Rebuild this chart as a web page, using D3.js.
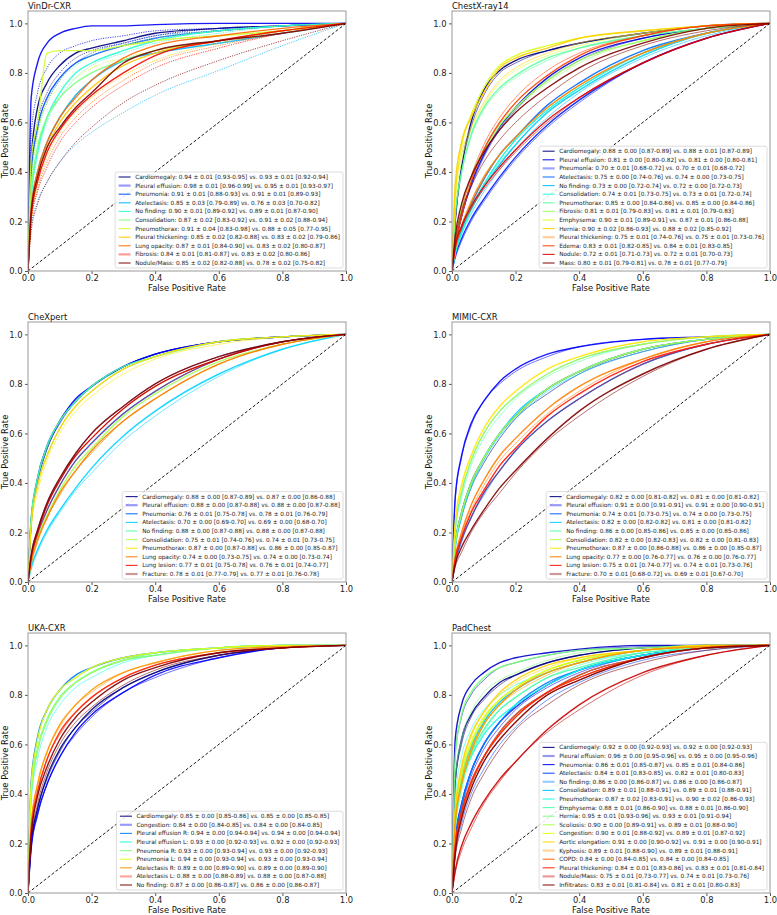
<!DOCTYPE html>
<html>
<head>
<meta charset="utf-8">
<script src="https://cdn.jsdelivr.net/npm/d3@7"></script>
<style>
  body { margin: 0; background: #fff; }
  text { font-family: "DejaVu Sans", sans-serif; }
</style>
</head>
<body>
<svg id="chart" width="777" height="915"></svg>
<script>
// shared false positive rate grid, tick values
var FPR = [0, 0.01, 0.03, 0.06, 0.1, 0.15, 0.2, 0.3, 0.4, 0.6, 0.8, 1];
var xTicks = [0, 0.2, 0.4, 0.6, 0.8, 1.0];
var yTicks = [0, 0.2, 0.4, 0.6, 0.8, 1.0];

// ---- VinDr-CXR
var vinLegend = [
	"Cardiomegaly: 0.94 ± 0.01 [0.93-0.95] vs. 0.93 ± 0.01 [0.92-0.94]",
	"Pleural effusion: 0.98 ± 0.01 [0.96-0.99] vs. 0.95 ± 0.01 [0.93-0.97]",
	"Pneumonia: 0.91 ± 0.01 [0.88-0.93] vs. 0.91 ± 0.01 [0.89-0.93]",
	"Atelectasis: 0.85 ± 0.03 [0.79-0.89] vs. 0.76 ± 0.03 [0.70-0.82]",
	"No finding: 0.90 ± 0.01 [0.89-0.92] vs. 0.89 ± 0.01 [0.87-0.90]",
	"Consolidation: 0.87 ± 0.02 [0.83-0.92] vs. 0.91 ± 0.02 [0.88-0.94]",
	"Pneumothorax: 0.91 ± 0.04 [0.83-0.98] vs. 0.88 ± 0.05 [0.77-0.95]",
	"Pleural thickening: 0.85 ± 0.02 [0.82-0.88] vs. 0.83 ± 0.02 [0.79-0.86]",
	"Lung opacity: 0.87 ± 0.01 [0.84-0.90] vs. 0.83 ± 0.02 [0.80-0.87]",
	"Fibrosis: 0.84 ± 0.01 [0.81-0.87] vs. 0.83 ± 0.02 [0.80-0.86]",
	"Nodule/Mass: 0.85 ± 0.02 [0.82-0.88] vs. 0.78 ± 0.02 [0.75-0.82]"
];
var vinA = [
	[0,.45,.66,.76,.83,.88,.90,.93,.96,.98,.99,1],
	[0,.70,.84,.92,.96,.98,.99,.99,.995,1,1,1],
	[0,.40,.58,.70,.78,.84,.87,.91,.94,.97,.99,1],
	[0,.25,.40,.52,.62,.71,.77,.85,.88,.92,.96,1],
	[0,.30,.48,.62,.72,.80,.84,.89,.93,.97,.99,1],
	[0,.32,.50,.62,.70,.76,.80,.85,.89,.93,.97,1],
	[0,.45,.60,.88,.89,.89,.89,.91,.93,.95,.97,1],
	[0,.22,.38,.50,.60,.68,.74,.83,.88,.93,.97,1],
	[0,.25,.40,.52,.62,.70,.77,.86,.91,.95,.98,1],
	[0,.22,.36,.48,.57,.65,.71,.80,.87,.93,.97,1],
	[0,.24,.38,.50,.58,.66,.72,.84,.89,.93,.96,1]
];
var vinB = [
	[0,.40,.60,.72,.80,.86,.89,.92,.95,.98,.99,1],
	[0,.55,.72,.82,.88,.91,.93,.95,.97,.98,.99,1],
	[0,.38,.56,.68,.77,.84,.88,.92,.95,.97,.99,1],
	[0,.18,.28,.36,.44,.51,.56,.64,.71,.81,.91,1],
	[0,.28,.46,.60,.70,.78,.83,.88,.92,.96,.99,1],
	[0,.35,.55,.68,.77,.83,.87,.91,.94,.97,.99,1],
	[0,.35,.55,.68,.74,.78,.82,.86,.89,.93,.97,1],
	[0,.20,.34,.46,.56,.64,.70,.79,.85,.92,.96,1],
	[0,.20,.33,.44,.54,.62,.68,.77,.84,.91,.96,1],
	[0,.20,.32,.42,.52,.60,.66,.75,.82,.90,.96,1],
	[0,.16,.27,.36,.44,.52,.58,.68,.75,.85,.93,1]
];
var vinLight = [1, 9];

// ---- ChestX-ray14
var nihLegend = [
	"Cardiomegaly: 0.88 ± 0.00 [0.87-0.89] vs. 0.88 ± 0.01 [0.87-0.89]",
	"Pleural effusion: 0.81 ± 0.00 [0.80-0.82] vs. 0.81 ± 0.00 [0.80-0.81]",
	"Pneumonia: 0.70 ± 0.01 [0.68-0.72] vs. 0.70 ± 0.01 [0.68-0.72]",
	"Atelectasis: 0.75 ± 0.00 [0.74-0.76] vs. 0.74 ± 0.00 [0.73-0.75]",
	"No finding: 0.73 ± 0.00 [0.72-0.74] vs. 0.72 ± 0.00 [0.72-0.73]",
	"Consolidation: 0.74 ± 0.01 [0.73-0.75] vs. 0.73 ± 0.01 [0.72-0.74]",
	"Pneumothorax: 0.85 ± 0.00 [0.84-0.86] vs. 0.85 ± 0.00 [0.84-0.86]",
	"Fibrosis: 0.81 ± 0.01 [0.79-0.83] vs. 0.81 ± 0.01 [0.79-0.83]",
	"Emphysema: 0.90 ± 0.01 [0.89-0.91] vs. 0.87 ± 0.01 [0.86-0.88]",
	"Hernia: 0.90 ± 0.02 [0.86-0.93] vs. 0.88 ± 0.02 [0.85-0.92]",
	"Pleural thickening: 0.75 ± 0.01 [0.74-0.76] vs. 0.75 ± 0.01 [0.73-0.76]",
	"Edema: 0.83 ± 0.01 [0.82-0.85] vs. 0.84 ± 0.01 [0.83-0.85]",
	"Nodule: 0.72 ± 0.01 [0.71-0.73] vs. 0.72 ± 0.01 [0.70-0.73]",
	"Mass: 0.80 ± 0.01 [0.79-0.81] vs. 0.78 ± 0.01 [0.77-0.79]"
];
var nihA = [
	[0,.20,.42,.60,.73,.81,.85,.89,.92,.96,.99,1],
	[0,.10,.22,.35,.47,.58,.66,.78,.86,.94,.98,1],
	[0,.06,.13,.21,.29,.38,.46,.59,.69,.84,.94,1],
	[0,.08,.18,.27,.37,.47,.54,.67,.76,.89,.96,1],
	[0,.07,.16,.25,.34,.43,.51,.64,.73,.87,.96,1],
	[0,.07,.15,.25,.35,.45,.53,.65,.74,.88,.96,1],
	[0,.22,.40,.55,.66,.74,.79,.86,.90,.95,.98,1],
	[0,.12,.26,.38,.49,.59,.66,.77,.85,.93,.98,1],
	[0,.30,.50,.63,.74,.83,.87,.91,.94,.97,.99,1],
	[0,.35,.52,.62,.72,.82,.86,.90,.94,.97,.99,1],
	[0,.09,.18,.28,.38,.47,.54,.66,.75,.88,.96,1],
	[0,.10,.22,.36,.49,.60,.68,.79,.87,.95,.99,1],
	[0,.10,.18,.26,.34,.42,.49,.61,.70,.84,.94,1],
	[0,.14,.27,.38,.48,.57,.64,.74,.82,.92,.98,1]
];
var nihB = [
	[0,.20,.41,.58,.71,.80,.84,.89,.92,.96,.99,1],
	[0,.10,.22,.34,.46,.57,.65,.77,.85,.94,.98,1],
	[0,.05,.12,.20,.28,.37,.45,.58,.68,.84,.94,1],
	[0,.08,.17,.26,.35,.45,.53,.65,.74,.88,.96,1],
	[0,.07,.15,.23,.32,.41,.49,.62,.72,.86,.95,1],
	[0,.07,.15,.24,.34,.44,.51,.64,.73,.87,.96,1],
	[0,.21,.39,.54,.65,.73,.78,.85,.90,.95,.98,1],
	[0,.12,.25,.37,.48,.58,.65,.76,.84,.93,.98,1],
	[0,.26,.44,.57,.67,.76,.81,.87,.91,.96,.99,1],
	[0,.30,.47,.58,.68,.77,.82,.88,.92,.96,.99,1],
	[0,.08,.18,.27,.37,.47,.54,.66,.75,.88,.96,1],
	[0,.11,.24,.38,.51,.62,.70,.81,.88,.95,.99,1],
	[0,.09,.17,.25,.33,.41,.48,.60,.70,.84,.94,1],
	[0,.12,.24,.34,.44,.53,.60,.71,.80,.91,.97,1]
];
var nihLight = [2, 10];

// ---- CheXpert
var cxpLegend = [
	"Cardiomegaly: 0.88 ± 0.00 [0.87-0.89] vs. 0.87 ± 0.00 [0.86-0.88]",
	"Pleural effusion: 0.88 ± 0.00 [0.87-0.88] vs. 0.88 ± 0.00 [0.87-0.88]",
	"Pneumonia: 0.76 ± 0.01 [0.75-0.78] vs. 0.78 ± 0.01 [0.76-0.79]",
	"Atelectasis: 0.70 ± 0.00 [0.69-0.70] vs. 0.69 ± 0.00 [0.68-0.70]",
	"No finding: 0.88 ± 0.00 [0.87-0.88] vs. 0.88 ± 0.00 [0.87-0.88]",
	"Consolidation: 0.75 ± 0.01 [0.74-0.76] vs. 0.74 ± 0.01 [0.73-0.75]",
	"Pneumothorax: 0.87 ± 0.00 [0.87-0.88] vs. 0.86 ± 0.00 [0.85-0.87]",
	"Lung opacity: 0.74 ± 0.00 [0.73-0.75] vs. 0.74 ± 0.00 [0.73-0.74]",
	"Lung lesion: 0.77 ± 0.01 [0.75-0.78] vs. 0.76 ± 0.01 [0.74-0.77]",
	"Fracture: 0.78 ± 0.01 [0.77-0.79] vs. 0.77 ± 0.01 [0.76-0.78]"
];
var cxpA = [
	[0,.25,.41,.54,.65,.73,.79,.87,.92,.97,.99,1],
	[0,.24,.42,.55,.65,.74,.79,.87,.92,.97,.99,1],
	[0,.09,.19,.29,.39,.49,.56,.68,.77,.90,.97,1],
	[0,.06,.13,.21,.29,.38,.46,.59,.69,.84,.94,1],
	[0,.26,.42,.55,.65,.73,.79,.87,.91,.97,.99,1],
	[0,.08,.18,.27,.37,.47,.54,.67,.76,.89,.96,1],
	[0,.23,.39,.51,.62,.71,.77,.86,.91,.97,.99,1],
	[0,.08,.17,.26,.36,.45,.53,.65,.74,.88,.96,1],
	[0,.10,.20,.31,.41,.51,.58,.70,.79,.90,.97,1],
	[0,.11,.21,.32,.42,.52,.60,.71,.80,.91,.97,1]
];
var cxpB = [
	[0,.23,.39,.51,.62,.71,.77,.86,.91,.97,.99,1],
	[0,.24,.41,.54,.64,.73,.79,.87,.92,.97,.99,1],
	[0,.11,.21,.32,.42,.52,.60,.71,.80,.91,.97,1],
	[0,.05,.12,.20,.28,.37,.44,.57,.67,.83,.94,1],
	[0,.25,.41,.54,.65,.73,.79,.86,.91,.97,.99,1],
	[0,.08,.17,.26,.36,.45,.53,.65,.74,.88,.96,1],
	[0,.21,.36,.49,.60,.69,.75,.84,.90,.96,.99,1],
	[0,.07,.16,.26,.35,.45,.52,.65,.74,.88,.96,1],
	[0,.09,.19,.29,.39,.49,.56,.68,.77,.90,.97,1],
	[0,.10,.20,.31,.41,.51,.58,.70,.79,.90,.97,1]
];
var cxpLight = [1, 9];

// ---- MIMIC-CXR
var mimLegend = [
	"Cardiomegaly: 0.82 ± 0.00 [0.81-0.82] vs. 0.81 ± 0.00 [0.81-0.82]",
	"Pleural effusion: 0.91 ± 0.00 [0.91-0.91] vs. 0.91 ± 0.00 [0.90-0.91]",
	"Pneumonia: 0.74 ± 0.01 [0.73-0.75] vs. 0.74 ± 0.00 [0.73-0.75]",
	"Atelectasis: 0.82 ± 0.00 [0.82-0.82] vs. 0.81 ± 0.00 [0.81-0.82]",
	"No finding: 0.86 ± 0.00 [0.85-0.86] vs. 0.85 ± 0.00 [0.85-0.86]",
	"Consolidation: 0.82 ± 0.00 [0.82-0.83] vs. 0.82 ± 0.00 [0.81-0.83]",
	"Pneumothorax: 0.87 ± 0.00 [0.86-0.88] vs. 0.86 ± 0.00 [0.85-0.87]",
	"Lung opacity: 0.77 ± 0.00 [0.76-0.77] vs. 0.76 ± 0.00 [0.76-0.77]",
	"Lung lesion: 0.75 ± 0.01 [0.74-0.77] vs. 0.74 ± 0.01 [0.73-0.76]",
	"Fracture: 0.70 ± 0.01 [0.68-0.72] vs. 0.69 ± 0.01 [0.67-0.70]"
];
var mimA = [
	[0,.15,.28,.40,.50,.60,.67,.78,.85,.94,.98,1],
	[0,.34,.51,.64,.73,.81,.86,.92,.95,.98,.99,1],
	[0,.08,.17,.26,.36,.45,.53,.65,.74,.88,.96,1],
	[0,.14,.27,.39,.50,.60,.68,.78,.85,.94,.98,1],
	[0,.21,.36,.49,.60,.69,.75,.84,.90,.96,.99,1],
	[0,.15,.28,.40,.50,.60,.67,.78,.85,.94,.98,1],
	[0,.24,.39,.51,.62,.71,.77,.86,.91,.97,.99,1],
	[0,.10,.20,.31,.41,.51,.58,.70,.79,.90,.97,1],
	[0,.09,.18,.28,.37,.47,.54,.67,.76,.89,.96,1],
	[0,.07,.14,.21,.29,.38,.45,.58,.69,.84,.94,1]
];
var mimB = [
	[0,.14,.26,.38,.48,.58,.66,.76,.84,.93,.98,1],
	[0,.33,.50,.63,.73,.80,.85,.91,.95,.98,.99,1],
	[0,.07,.16,.26,.35,.45,.53,.65,.74,.88,.96,1],
	[0,.13,.26,.38,.49,.59,.66,.77,.84,.93,.98,1],
	[0,.20,.34,.47,.58,.67,.74,.83,.89,.96,.99,1],
	[0,.14,.27,.39,.50,.60,.67,.78,.85,.94,.98,1],
	[0,.22,.37,.49,.60,.69,.75,.84,.90,.96,.99,1],
	[0,.09,.19,.29,.39,.49,.56,.68,.77,.90,.97,1],
	[0,.08,.17,.26,.36,.45,.53,.65,.74,.88,.96,1],
	[0,.06,.12,.20,.28,.36,.44,.57,.67,.83,.94,1]
];
var mimLight = [1, 9];

// ---- UKA-CXR
var ukaLegend = [
	"Cardiomegaly: 0.85 ± 0.00 [0.85-0.86] vs. 0.85 ± 0.00 [0.85-0.85]",
	"Congestion: 0.84 ± 0.00 [0.84-0.85] vs. 0.84 ± 0.00 [0.84-0.85]",
	"Pleural effusion R: 0.94 ± 0.00 [0.94-0.94] vs. 0.94 ± 0.00 [0.94-0.94]",
	"Pleural effusion L: 0.93 ± 0.00 [0.92-0.93] vs. 0.92 ± 0.00 [0.92-0.93]",
	"Pneumonia R: 0.93 ± 0.00 [0.93-0.94] vs. 0.93 ± 0.00 [0.92-0.93]",
	"Pneumonia L: 0.94 ± 0.00 [0.93-0.94] vs. 0.93 ± 0.00 [0.93-0.94]",
	"Atelectasis R: 0.89 ± 0.00 [0.89-0.90] vs. 0.89 ± 0.00 [0.89-0.90]",
	"Atelectasis L: 0.88 ± 0.00 [0.88-0.89] vs. 0.88 ± 0.00 [0.87-0.88]",
	"No finding: 0.87 ± 0.00 [0.86-0.87] vs. 0.86 ± 0.00 [0.86-0.87]"
];
var ukaA = [
	[0,.20,.34,.47,.58,.67,.74,.83,.89,.96,.99,1],
	[0,.18,.32,.44,.55,.65,.72,.81,.88,.95,.99,1],
	[0,.45,.63,.74,.82,.88,.91,.95,.97,.99,1,1],
	[0,.41,.58,.70,.79,.85,.89,.94,.97,.99,1,1],
	[0,.40,.58,.70,.79,.85,.89,.94,.96,.99,1,1],
	[0,.44,.62,.74,.82,.87,.91,.95,.97,.99,1,1],
	[0,.28,.44,.57,.68,.76,.82,.89,.93,.98,.995,1],
	[0,.25,.41,.54,.65,.73,.79,.87,.92,.97,.99,1],
	[0,.23,.39,.51,.62,.71,.77,.86,.91,.97,.99,1]
];
var ukaB = [
	[0,.19,.34,.46,.57,.67,.73,.83,.89,.96,.99,1],
	[0,.18,.31,.44,.55,.64,.71,.81,.87,.95,.99,1],
	[0,.44,.62,.74,.82,.87,.91,.95,.97,.99,1,1],
	[0,.37,.54,.67,.76,.83,.87,.93,.96,.99,1,1],
	[0,.40,.57,.69,.78,.85,.89,.94,.96,.99,1,1],
	[0,.41,.58,.70,.79,.85,.89,.94,.97,.99,1,1],
	[0,.27,.44,.57,.67,.76,.81,.89,.93,.98,.995,1],
	[0,.25,.40,.54,.64,.73,.79,.87,.92,.97,.99,1],
	[0,.21,.36,.49,.60,.69,.75,.84,.90,.96,.99,1]
];
var ukaLight = [1, 7];

// ---- PadChest
var padLegend = [
	"Cardiomegaly: 0.92 ± 0.00 [0.92-0.93] vs. 0.92 ± 0.00 [0.92-0.93]",
	"Pleural effusion: 0.96 ± 0.00 [0.95-0.96] vs. 0.95 ± 0.00 [0.95-0.96]",
	"Pneumonia: 0.86 ± 0.01 [0.85-0.87] vs. 0.85 ± 0.01 [0.84-0.86]",
	"Atelectasis: 0.84 ± 0.01 [0.83-0.85] vs. 0.82 ± 0.01 [0.80-0.83]",
	"No finding: 0.86 ± 0.00 [0.86-0.87] vs. 0.86 ± 0.00 [0.86-0.87]",
	"Consolidation: 0.89 ± 0.01 [0.88-0.91] vs. 0.89 ± 0.01 [0.88-0.91]",
	"Pneumothorax: 0.87 ± 0.02 [0.83-0.91] vs. 0.90 ± 0.02 [0.86-0.93]",
	"Emphysema: 0.88 ± 0.01 [0.86-0.90] vs. 0.88 ± 0.01 [0.86-0.90]",
	"Hernia: 0.95 ± 0.01 [0.93-0.96] vs. 0.93 ± 0.01 [0.91-0.94]",
	"Scoliosis: 0.90 ± 0.00 [0.89-0.91] vs. 0.89 ± 0.01 [0.88-0.90]",
	"Congestion: 0.90 ± 0.01 [0.88-0.92] vs. 0.89 ± 0.01 [0.87-0.92]",
	"Aortic elongation: 0.91 ± 0.00 [0.90-0.92] vs. 0.91 ± 0.00 [0.90-0.91]",
	"Kyphosis: 0.89 ± 0.01 [0.88-0.90] vs. 0.89 ± 0.01 [0.88-0.91]",
	"COPD: 0.84 ± 0.00 [0.84-0.85] vs. 0.84 ± 0.00 [0.84-0.85]",
	"Pleural thickening: 0.84 ± 0.01 [0.83-0.86] vs. 0.83 ± 0.01 [0.81-0.84]",
	"Nodule/Mass: 0.75 ± 0.01 [0.73-0.77] vs. 0.74 ± 0.01 [0.73-0.76]",
	"Infiltrates: 0.83 ± 0.01 [0.81-0.84] vs. 0.81 ± 0.01 [0.80-0.83]"
];
var padA = [
	[0,.45,.62,.72,.79,.85,.88,.93,.96,.99,1,1],
	[0,.62,.76,.84,.89,.93,.95,.97,.985,1,1,1],
	[0,.21,.36,.49,.60,.69,.75,.84,.90,.96,.99,1],
	[0,.18,.32,.44,.55,.65,.72,.81,.88,.95,.99,1],
	[0,.20,.35,.49,.60,.69,.76,.85,.90,.96,.99,1],
	[0,.30,.47,.59,.69,.77,.82,.89,.93,.98,.995,1],
	[0,.30,.45,.55,.64,.71,.76,.84,.90,.96,.99,1],
	[0,.26,.43,.56,.66,.74,.79,.87,.91,.97,.99,1],
	[0,.55,.72,.81,.87,.91,.93,.96,.98,.99,1,1],
	[0,.30,.47,.60,.70,.78,.83,.90,.94,.98,1,1],
	[0,.32,.49,.61,.71,.78,.83,.90,.94,.98,.995,1],
	[0,.33,.51,.64,.73,.81,.86,.92,.95,.98,1,1],
	[0,.28,.44,.57,.68,.76,.82,.89,.93,.98,.995,1],
	[0,.18,.32,.44,.55,.65,.72,.81,.88,.95,.99,1],
	[0,.19,.33,.45,.55,.64,.71,.81,.87,.95,.99,1],
	[0,.09,.19,.28,.37,.46,.53,.66,.76,.89,.96,1],
	[0,.16,.30,.42,.53,.62,.69,.80,.86,.95,.99,1]
];
var padB = [
	[0,.44,.60,.71,.78,.84,.88,.93,.96,.99,1,1],
	[0,.56,.71,.80,.86,.91,.93,.96,.98,.995,1,1],
	[0,.19,.34,.47,.58,.67,.74,.83,.89,.96,.99,1],
	[0,.15,.28,.40,.50,.60,.67,.78,.85,.94,.98,1],
	[0,.21,.36,.49,.60,.69,.75,.84,.90,.96,.99,1],
	[0,.29,.46,.58,.68,.76,.82,.89,.93,.98,.995,1],
	[0,.38,.55,.66,.74,.80,.84,.89,.93,.97,.99,1],
	[0,.25,.41,.55,.65,.74,.79,.87,.92,.97,.99,1],
	[0,.45,.62,.73,.81,.86,.89,.94,.97,.99,1,1],
	[0,.28,.44,.57,.68,.76,.82,.89,.93,.98,.995,1],
	[0,.29,.45,.58,.68,.76,.82,.89,.93,.98,.995,1],
	[0,.33,.50,.63,.73,.80,.85,.91,.95,.98,1,1],
	[0,.29,.45,.58,.68,.76,.81,.88,.93,.98,.995,1],
	[0,.18,.31,.44,.55,.64,.71,.81,.87,.95,.99,1],
	[0,.17,.30,.42,.53,.62,.69,.80,.86,.95,.99,1],
	[0,.08,.17,.26,.36,.45,.53,.65,.74,.88,.96,1],
	[0,.14,.26,.38,.48,.58,.66,.76,.84,.93,.98,1]
];
var padLight = [1, 4, 12, 15];

var panels = [
	{ title: "VinDr-CXR", legend: vinLegend, a: vinA, b: vinB, light: vinLight, col: 0, row: 0, dotted: true },
	{ title: "ChestX-ray14", legend: nihLegend, a: nihA, b: nihB, light: nihLight, col: 1, row: 0 },
	{ title: "CheXpert", legend: cxpLegend, a: cxpA, b: cxpB, light: cxpLight, col: 0, row: 1 },
	{ title: "MIMIC-CXR", legend: mimLegend, a: mimA, b: mimB, light: mimLight, col: 1, row: 1 },
	{ title: "UKA-CXR", legend: ukaLegend, a: ukaA, b: ukaB, light: ukaLight, col: 0, row: 2 },
	{ title: "PadChest", legend: padLegend, a: padA, b: padB, light: padLight, col: 1, row: 2 }
];

// layout
var colLeft = [28, 452], rowTop = [11, 322, 633];
var W = 318, H = 260;

// matplotlib "jet"
var jetR = d3.scaleLinear().domain([0, 0.35, 0.66, 0.89, 1]).range([0, 0, 1, 1, 0.5]).clamp(true);
var jetG = d3.scaleLinear().domain([0, 0.125, 0.375, 0.64, 0.91, 1]).range([0, 0, 1, 1, 0, 0]).clamp(true);
var jetB = d3.scaleLinear().domain([0, 0.11, 0.34, 0.65, 1]).range([0.5, 1, 1, 0, 0]).clamp(true);
function jet(t) { return d3.rgb(jetR(t) * 255, jetG(t) * 255, jetB(t) * 255).toString(); }

var svg = d3.select("#chart");
var x = d3.scaleLinear().domain([0, 1]).range([0, W]);
var y = d3.scaleLinear().domain([0, 1.05]).range([H, 0]);
var line = d3.line().x(function (d) { return x(d[0]); }).y(function (d) { return y(d[1]); }).curve(d3.curveMonotoneX);

panels.forEach(function (p, pi) {
	var g = svg.append("g").attr("transform", "translate(" + colLeft[p.col] + "," + rowTop[p.row] + ")");
	var n = p.legend.length;
	g.append("clipPath").attr("id", "clip" + pi).append("rect").attr("width", W).attr("height", H);
	var plot = g.append("g").attr("clip-path", "url(#clip" + pi + ")");

	p.a.forEach(function (tpr, i) {
		var c = jet(n > 1 ? i / (n - 1) : 0);
		plot.append("path").datum(FPR.map(function (f, k) { return [f, tpr[k]]; }))
			.attr("d", line).attr("fill", "none").attr("stroke", c)
			.attr("stroke-width", 1.4).attr("stroke-opacity", 0.9);
		var b = p.b[i];
		var pb = plot.append("path").datum(FPR.map(function (f, k) { return [f, b[k]]; }))
			.attr("d", line).attr("fill", "none").attr("stroke", c)
			.attr("stroke-width", p.dotted ? 0.9 : 0.7).attr("stroke-opacity", 0.8);
		if (p.dotted) pb.attr("stroke-dasharray", "1.2,1.2");
	});

	// chance diagonal
	plot.append("line").attr("x1", x(0)).attr("y1", y(0)).attr("x2", x(1)).attr("y2", y(1))
		.attr("stroke", "#000").attr("stroke-width", 0.9).attr("stroke-dasharray", "3,2");

	// axes
	var ax = g.append("g").attr("transform", "translate(0," + H + ")")
		.call(d3.axisBottom(x).tickValues(xTicks).tickFormat(d3.format(".1f")).tickSize(3).tickPadding(1));
	var ay = g.append("g")
		.call(d3.axisLeft(y).tickValues(yTicks).tickFormat(d3.format(".1f")).tickSize(3).tickPadding(2.5));
	[ax, ay].forEach(function (a) {
		a.select(".domain").remove();
		a.selectAll("text").attr("font-size", 8.4).attr("fill", "#222").style("font-family", "DejaVu Sans");
		a.selectAll("line").attr("stroke", "#555");
	});
	g.append("rect").attr("width", W).attr("height", H).attr("fill", "none").attr("stroke", "#999").attr("stroke-width", 1);

	g.append("text").attr("x", 0).attr("y", -2.5).attr("font-size", 8.4).attr("fill", "#111").text(p.title);
	g.append("text").attr("x", W / 2).attr("y", H + 20).attr("text-anchor", "middle")
		.attr("font-size", 8.4).attr("fill", "#111").text("False Positive Rate");
	g.append("text").attr("transform", "translate(-20," + (H / 2) + ") rotate(-90)").attr("text-anchor", "middle")
		.attr("font-size", 8.4).attr("fill", "#111").text("True Positive Rate");

	// legend, lower right
	var step = 8.6, bh = (n - 1) * step + 10;
	var lg = g.append("g");
	var box = lg.append("rect").attr("fill", "#fff").attr("fill-opacity", 0.85)
		.attr("stroke", "#d4d4d4").attr("stroke-width", 0.8).attr("rx", 2);
	var texts = [];
	p.legend.forEach(function (s, i) {
		var c = jet(n > 1 ? i / (n - 1) : 0);
		var light = p.light.indexOf(i) >= 0;
		var row = lg.append("g").attr("transform", "translate(0," + (5 + i * step) + ")");
		row.append("line").attr("x1", 3.5).attr("x2", 15.5).attr("stroke", c)
			.attr("stroke-width", light ? 2.2 : 1.1).attr("stroke-opacity", light ? 0.4 : 0.9);
		texts.push(row.append("text").attr("x", 20).attr("dy", "0.35em").attr("font-size", 5.8).attr("fill", "#222").text(s));
	});
	var maxW = d3.max(texts, function (t) { return t.node().getComputedTextLength(); });
	var bw = 20 + maxW + 3;
	box.attr("width", bw).attr("height", bh);
	lg.attr("transform", "translate(" + (W - 3 - bw) + "," + (H - 3 - bh) + ")");
});
</script>
</body>
</html>
